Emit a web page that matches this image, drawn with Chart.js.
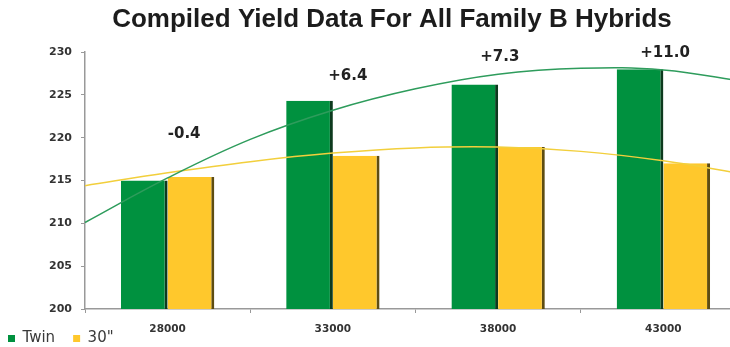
<!DOCTYPE html>
<html>
<head>
<meta charset="utf-8">
<script src="https://cdn.jsdelivr.net/npm/chart.js@4/dist/chart.umd.min.js"></script>
<style>
  html, body { margin: 0; padding: 0; background: #fff; overflow: hidden; }
  #wrap { width: 730px; height: 347px; overflow: hidden; position: relative; }
  #box { width: 748px; height: 356px; position: absolute; left: 0; top: 0; }
</style>
</head>
<body>
<div id="wrap"><div id="box"><canvas id="yieldChart"></canvas></div></div>
<script>
// ---- data ----
const chartTitle = 'Compiled Yield Data For All Family B Hybrids';
const populations = ['28000', '33000', '38000', '43000'];
const twinYield = [215.0, 224.3, 226.2, 228.0];
const thirtyYield = [215.4, 217.9, 218.9, 217.0];
const diffText = ['-0.4', '+6.4', '+7.3', '+11.0'];
const yTicks = [200, 205, 210, 215, 220, 225, 230];

// trend curves, sampled along the category axis (index units)
const curveAt = [-0.5, 0, 0.5, 1, 1.5, 2, 2.5, 3, 3.5];
const twinTrend = [210.1, 215.3, 219.8, 223.2, 225.7, 227.4, 228.1, 227.9, 226.5];
const thirtyTrend = [214.4, 215.9, 217.2, 218.2, 218.8, 218.9, 218.4, 217.3, 215.7];

// where the difference labels sit (category index, value)
const diffAt = [[0.1, 220.4], [1.09, 227.2], [2.01, 229.4], [3.01, 229.9]];

const GREEN = '#00913f';
const YELLOW = '#ffc82c';

const titlePlugin = {
  id: 'pageTitle',
  afterDraw(chart) {
    const ctx = chart.ctx;
    ctx.save();
    ctx.font = 'bold 26px "Liberation Sans", Arial, sans-serif';
    ctx.fillStyle = '#1c1c1c';
    ctx.textAlign = 'center';
    ctx.textBaseline = 'alphabetic';
    ctx.fillText(chartTitle, 392, 27);
    ctx.restore();
  }
};

const diffPlugin = {
  id: 'diffLabels',
  afterDatasetsDraw(chart) {
    const ctx = chart.ctx;
    const xs = chart.scales.x;
    const ys = chart.scales.y;
    ctx.save();
    ctx.font = 'bold 15px "DejaVu Sans", sans-serif';
    ctx.fillStyle = '#222';
    ctx.textAlign = 'center';
    ctx.textBaseline = 'middle';
    diffText.forEach((t, i) => {
      ctx.fillText(t, xs.getPixelForValue(diffAt[i][0]), ys.getPixelForValue(diffAt[i][1]));
    });
    ctx.restore();
  }
};

// already in scale units (category index / value), so parsing is off for the curves
const toPoints = (vals) => vals.map((v, i) => ({ x: curveAt[i], y: v }));

new Chart(document.getElementById('yieldChart'), {
  type: 'bar',
  data: {
    labels: populations,
    datasets: [
      {
        label: 'Twin',
        data: twinYield,
        backgroundColor: GREEN,
        borderColor: '#0d3a1e',
        borderWidth: { right: 3, left: 0, top: 0, bottom: 0 },
        borderSkipped: false,
        categoryPercentage: 0.565,
        barPercentage: 1.0,
        order: 2
      },
      {
        label: '30"',
        data: thirtyYield,
        backgroundColor: YELLOW,
        borderColor: '#5e4d12',
        borderWidth: { right: 3, left: 0, top: 0, bottom: 0 },
        borderSkipped: false,
        categoryPercentage: 0.565,
        barPercentage: 1.0,
        order: 2
      },
      {
        type: 'line',
        label: 'Twin trend',
        data: toPoints(twinTrend),
        parsing: false,
        borderColor: '#2e9c5c',
        borderWidth: 1.5,
        pointRadius: 0,
        tension: 0.4,
        fill: false,
        order: 0
      },
      {
        type: 'line',
        label: '30" trend',
        data: toPoints(thirtyTrend),
        parsing: false,
        borderColor: '#f2cf3c',
        borderWidth: 1.5,
        pointRadius: 0,
        tension: 0.4,
        fill: false,
        order: 1
      }
    ]
  },
  options: {
    responsive: true,
    maintainAspectRatio: false,
    animation: false,
    layout: { padding: { left: -10, top: 52, right: 2, bottom: 0 } },
    scales: {
      x: {
        offset: true,
        grid: { display: true, drawOnChartArea: false, tickLength: 4, color: '#999', offset: true },
        border: { color: '#999', width: 1.5 },
        ticks: {
          mirror: true,   // keeps the labels from taking layout room, so the legend tucks under them
          padding: -27,
          color: '#333',
          font: { family: '"DejaVu Sans", sans-serif', size: 10.5, weight: 'bold' }
        },
        afterFit: (s) => { s.height = 4; }
      },
      y: {
        min: 200,
        max: 230,
        afterBuildTicks: (s) => { s.ticks = yTicks.map(v => ({ value: v })); },
        grid: { display: true, drawOnChartArea: false, tickLength: 4, color: '#999' },
        border: { color: '#999', width: 1.5 },
        ticks: { color: '#333', padding: 9, font: { family: '"DejaVu Sans", sans-serif', size: 11, weight: 'bold' } },
        afterFit: (s) => { s.width = 95; }
      }
    },
    plugins: {
      legend: {
        position: 'bottom',
        align: 'start',
        labels: {
          boxWidth: 7,
          boxHeight: 7,
          padding: 18,
          color: '#3a3a3a',
          font: { family: '"DejaVu Sans", sans-serif', size: 15 },
          filter: (item) => item.datasetIndex < 2,
          generateLabels: (c) => Chart.defaults.plugins.legend.labels.generateLabels(c)
            .map(l => Object.assign(l, { lineWidth: 0 }))
        }
      },
      tooltip: { enabled: false }
    }
  },
  plugins: [titlePlugin, diffPlugin]
});
</script>
</body>
</html>
